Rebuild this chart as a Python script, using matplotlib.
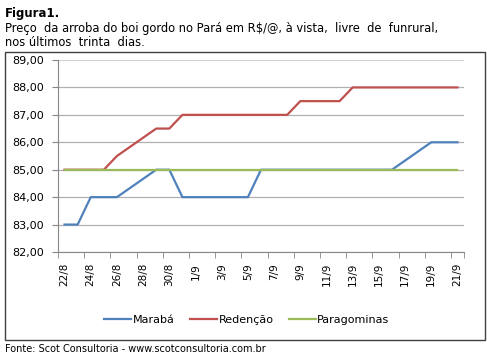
import matplotlib
matplotlib.use("Agg")
import matplotlib.pyplot as plt
import pandas as pd
from matplotlib.patches import Rectangle

# full date axis (one slot per day)
days = pd.date_range("2014-08-22", "2014-09-21", freq="D")

# series vertices (date, price R$/@)
maraba_dates = ["2014-08-22", "2014-08-23", "2014-08-24", "2014-08-26", "2014-08-29",
                "2014-08-30", "2014-08-31", "2014-09-05", "2014-09-06", "2014-09-16",
                "2014-09-19", "2014-09-21"]
maraba = [83, 83, 84, 84, 85, 85, 84, 84, 85, 85, 86, 86]

redencao_dates = ["2014-08-22", "2014-08-25", "2014-08-26", "2014-08-29", "2014-08-30",
                  "2014-08-31", "2014-09-08", "2014-09-09", "2014-09-12", "2014-09-13",
                  "2014-09-21"]
redencao = [85, 85, 85.5, 86.5, 86.5, 87, 87, 87.5, 87.5, 88, 88]

paragominas_dates = ["2014-08-22", "2014-09-21"]
paragominas = [85, 85]

yticks = [82, 83, 84, 85, 86, 87, 88, 89]

W, H = 487, 357
fig = plt.figure(figsize=(W / 100, H / 100), dpi=100)
ax = fig.add_axes([58 / W, 1 - 252 / H, (464 - 58) / W, (252 - 60) / H])

ax.plot(pd.to_datetime(maraba_dates), maraba, color="#4F81BD", lw=1.6, label="Marabá")
ax.plot(pd.to_datetime(redencao_dates), redencao, color="#C0504D", lw=1.6, label="Redenção")
ax.plot(pd.to_datetime(paragominas_dates), paragominas, color="#9BBB59", lw=1.6, label="Paragominas")

half = pd.Timedelta(hours=12)
ax.set_xlim(days[0] - half, days[-1] + half)
ax.set_ylim(82, 89)

ax.set_yticks(yticks)
ax.set_yticklabels([f"{v:.2f}".replace(".", ",") for v in yticks], fontsize=8)
ax.grid(axis="y", color="#b0b0b0", lw=0.9)
top = ax.get_ygridlines()[-1]
top.set_color("#d0d0d0")
top.set_linewidth(1.5)
ax.set_axisbelow(True)

lab_days = days[::2]
ax.set_xticks(lab_days)
ax.set_xticklabels([f"{d.day}/{d.month}" for d in lab_days], rotation=90, fontsize=7.5)
ax.set_xticks(list(lab_days - half) + [days[-1] + half], minor=True)
ax.tick_params(axis="x", which="major", length=0, pad=8)
ax.tick_params(axis="x", which="minor", length=4, color="#868686")
ax.tick_params(axis="y", length=4, color="#868686", pad=6)

for s in ["top", "right"]:
    ax.spines[s].set_visible(False)
for s in ["left", "bottom"]:
    ax.spines[s].set_color("#868686")

fig.legend(loc="center", bbox_to_anchor=(247 / W, 1 - 320 / H), ncol=3, frameon=False,
           fontsize=8, handlelength=2.4, handletextpad=0.15, columnspacing=1.4)

fig.patches.append(Rectangle((5 / W, 1 - 340 / H), 480 / W, 288 / H, transform=fig.transFigure,
                             fill=False, edgecolor="#404040", lw=1))

fig.text(5 / W, 1 - 17 / H, "Figura1.", fontsize=8.5, fontweight="bold", va="baseline")
fig.text(5 / W, 1 - 32 / H,
         "Preço  da arroba do boi gordo no Pará em R$/@, à vista,  livre  de  funrural,",
         fontsize=8.3, va="baseline")
fig.text(5 / W, 1 - 46 / H, "nos últimos  trinta  dias.", fontsize=8.3, va="baseline")
fig.text(5 / W, 1 - 351.5 / H, "Fonte: Scot Consultoria - www.scotconsultoria.com.br",
         fontsize=7, va="baseline")

fig.savefig("out.png", dpi=100)
